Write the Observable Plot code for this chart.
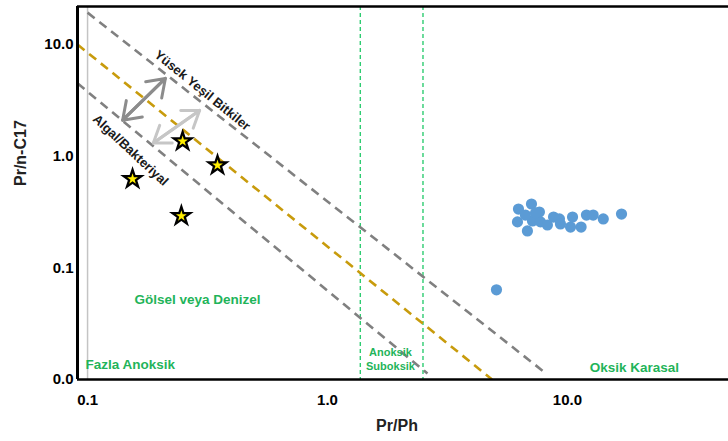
<!DOCTYPE html>
<html>
<head>
<meta charset="utf-8">
<script src="https://cdn.jsdelivr.net/npm/d3@7"></script>
<script src="https://cdn.jsdelivr.net/npm/@observablehq/plot@0.6"></script>
<style>
  body { margin: 0; background: #fff; }
</style>
</head>
<body>
<div id="chart"></div>
<script>
// ---- data ----
const xTicks = [0.1, 1, 10];
const yTicks = [0.01, 0.1, 1, 10];

// samples (stars)
const starX = [0.249, 0.348, 0.154, 0.246];
const starY = [1.36, 0.83, 0.624, 0.291];

// samples (blue dots)
const dotX = [6.25, 7.08, 7.64, 6.19, 6.81, 7.15, 7.72, 8.25, 8.75, 9.26, 9.35, 10.3, 10.5, 11.4, 12.0, 12.8, 14.1, 16.8, 6.68, 7.36, 5.06];
const dotY = [0.336, 0.373, 0.316, 0.258, 0.214, 0.263, 0.258, 0.242, 0.285, 0.274, 0.247, 0.232, 0.285, 0.232, 0.297, 0.297, 0.274, 0.303, 0.297, 0.31, 0.0636];

// diagonal guide lines (endpoints)
const guideNames = ["upper", "middle", "lower"];
const guideX1 = [0.1, 0.0908, 0.0908];
const guideY1 = [19.3, 10, 4.49];
const guideX2 = [7.87, 4.85, 2.61];
const guideY2 = [0.012, 0.01, 0.0113];
const guideColors = ["#808080", "#c89b0c", "#808080"];

// redox boundaries
const boundaryX = [1.37, 2.5];

// arrows
const arrowX1 = [0.140, 0.188];
const arrowY1 = [2.10, 1.31];
const arrowX2 = [0.211, 0.293];
const arrowY2 = [4.97, 2.57];
const arrowColors = ["#8c8c8c", "#c6c6c6"];

// labels
const rotLabels = ["Yüsek Yeşil Bitkiler", "Algal/Bakteriyal"];
const rotX = [0.301, 0.151];
const rotY = [3.88, 1.13];
const rotAngle = [39, 43];

const zoneLabels = ["Gölsel veya Denizel", "Oksik Karasal"];
const zoneX = [0.287, 19.0];
const zoneY = [0.0518, 0.0128];

const cornerLabel = ["Fazla Anoksik"];
const cornerX = [0.098];
const cornerY = [0.0136];

const smallLabels = ["Anoksik", "Suboksik"];
const smallX = [1.83, 1.83];
const smallY = [0.0174, 0.0131];

// ---- build ----
const guides = guideNames.map((n, i) => ({n, x1: guideX1[i], y1: guideY1[i], x2: guideX2[i], y2: guideY2[i], c: guideColors[i]}));
const stars = starX.map((x, i) => ({x, y: starY[i]}));
const dots = dotX.map((x, i) => ({x, y: dotY[i]}));
const arrows = arrowX1.map((x, i) => ({x1: x, y1: arrowY1[i], x2: arrowX2[i], y2: arrowY2[i], c: arrowColors[i]}));
const rots = rotLabels.map((t, i) => ({t, x: rotX[i], y: rotY[i], a: rotAngle[i]}));
const zones = zoneLabels.map((t, i) => ({t, x: zoneX[i], y: zoneY[i]}));
const corner = cornerLabel.map((t, i) => ({t, x: cornerX[i], y: cornerY[i]}));
const smalls = smallLabels.map((t, i) => ({t, x: smallX[i], y: smallY[i]}));

const xDomain = [0.0908, 46.9];
const yDomain = [0.01, 21.9];
const font = "Liberation Sans, Arial, sans-serif";
const green = "#1fb45a";

const chart = Plot.plot({
  width: 728,
  height: 441,
  marginLeft: 77,
  marginRight: 0,
  marginTop: 6,
  marginBottom: 62,
  style: {fontFamily: font, background: "#fff", color: "#000"},
  x: {type: "log", domain: xDomain},
  y: {type: "log", domain: yDomain},
  marks: [
    Plot.ruleX([0.1], {stroke: "#c4c4c4", strokeWidth: 1.5}),
    Plot.ruleX(boundaryX, {stroke: "#2ecc71", strokeWidth: 1.4, strokeDasharray: "4,3"}),
    Plot.link(guides, {x1: "x1", y1: "y1", x2: "x2", y2: "y2", stroke: "c", strokeWidth: 2.6, strokeDasharray: "9,6", clip: true}),
    Plot.arrow(arrows, {x1: "x1", y1: "y1", x2: "x2", y2: "y2", stroke: "c", strokeWidth: 3, headLength: 13, headAngle: 70}),
    Plot.arrow(arrows, {x1: "x2", y1: "y2", x2: "x1", y2: "y1", stroke: "c", strokeWidth: 3, headLength: 13, headAngle: 70}),
    Plot.dot(dots, {x: "x", y: "y", r: 5.6, fill: "#5b9bd5", stroke: "none"}),
    Plot.dot(stars, {x: "x", y: "y", symbol: "star", r: 7.8, fill: "#000", stroke: "none"}),
    Plot.dot(stars, {x: "x", y: "y", symbol: "star", r: 3.4, fill: "#ffee00", stroke: "none"}),
    Plot.text(rots, {x: "x", y: "y", text: "t", rotate: "a", fontSize: 13, fontWeight: "bold", fill: "#1a1a1a"}),
    Plot.text(zones, {x: "x", y: "y", text: "t", fontSize: 13.5, fontWeight: "bold", fill: green}),
    Plot.text(corner, {x: "x", y: "y", text: "t", textAnchor: "start", fontSize: 13.5, fontWeight: "bold", fill: green}),
    Plot.text(smalls, {x: "x", y: "y", text: "t", fontSize: 11, fontWeight: "bold", fill: green}),
    Plot.ruleX([xDomain[0]], {stroke: "#000", strokeWidth: 3}),
    Plot.ruleY(yDomain, {stroke: "#000", strokeWidth: 2.6}),
    Plot.axisY(yTicks, {tickSize: 0, tickPadding: 4, tickFormat: d3.format(".1f"), label: null, fontSize: 15, fontWeight: "bold"}),
    Plot.axisX(xTicks, {tickSize: 0, tickPadding: 15, tickFormat: d3.format(".1f"), label: null, fontSize: 15, fontWeight: "bold"}),
    Plot.text(["Pr/Ph"], {frameAnchor: "bottom", dx: -6, dy: 51, fontSize: 16, fontWeight: "bold", fill: "#222"}),
    Plot.text(["Pr/n-C17"], {frameAnchor: "left", dx: -57, dy: -7, rotate: -90, fontSize: 16, fontWeight: "bold", fill: "#222"})
  ]
});
document.getElementById("chart").appendChild(chart);
</script>
</body>
</html>
